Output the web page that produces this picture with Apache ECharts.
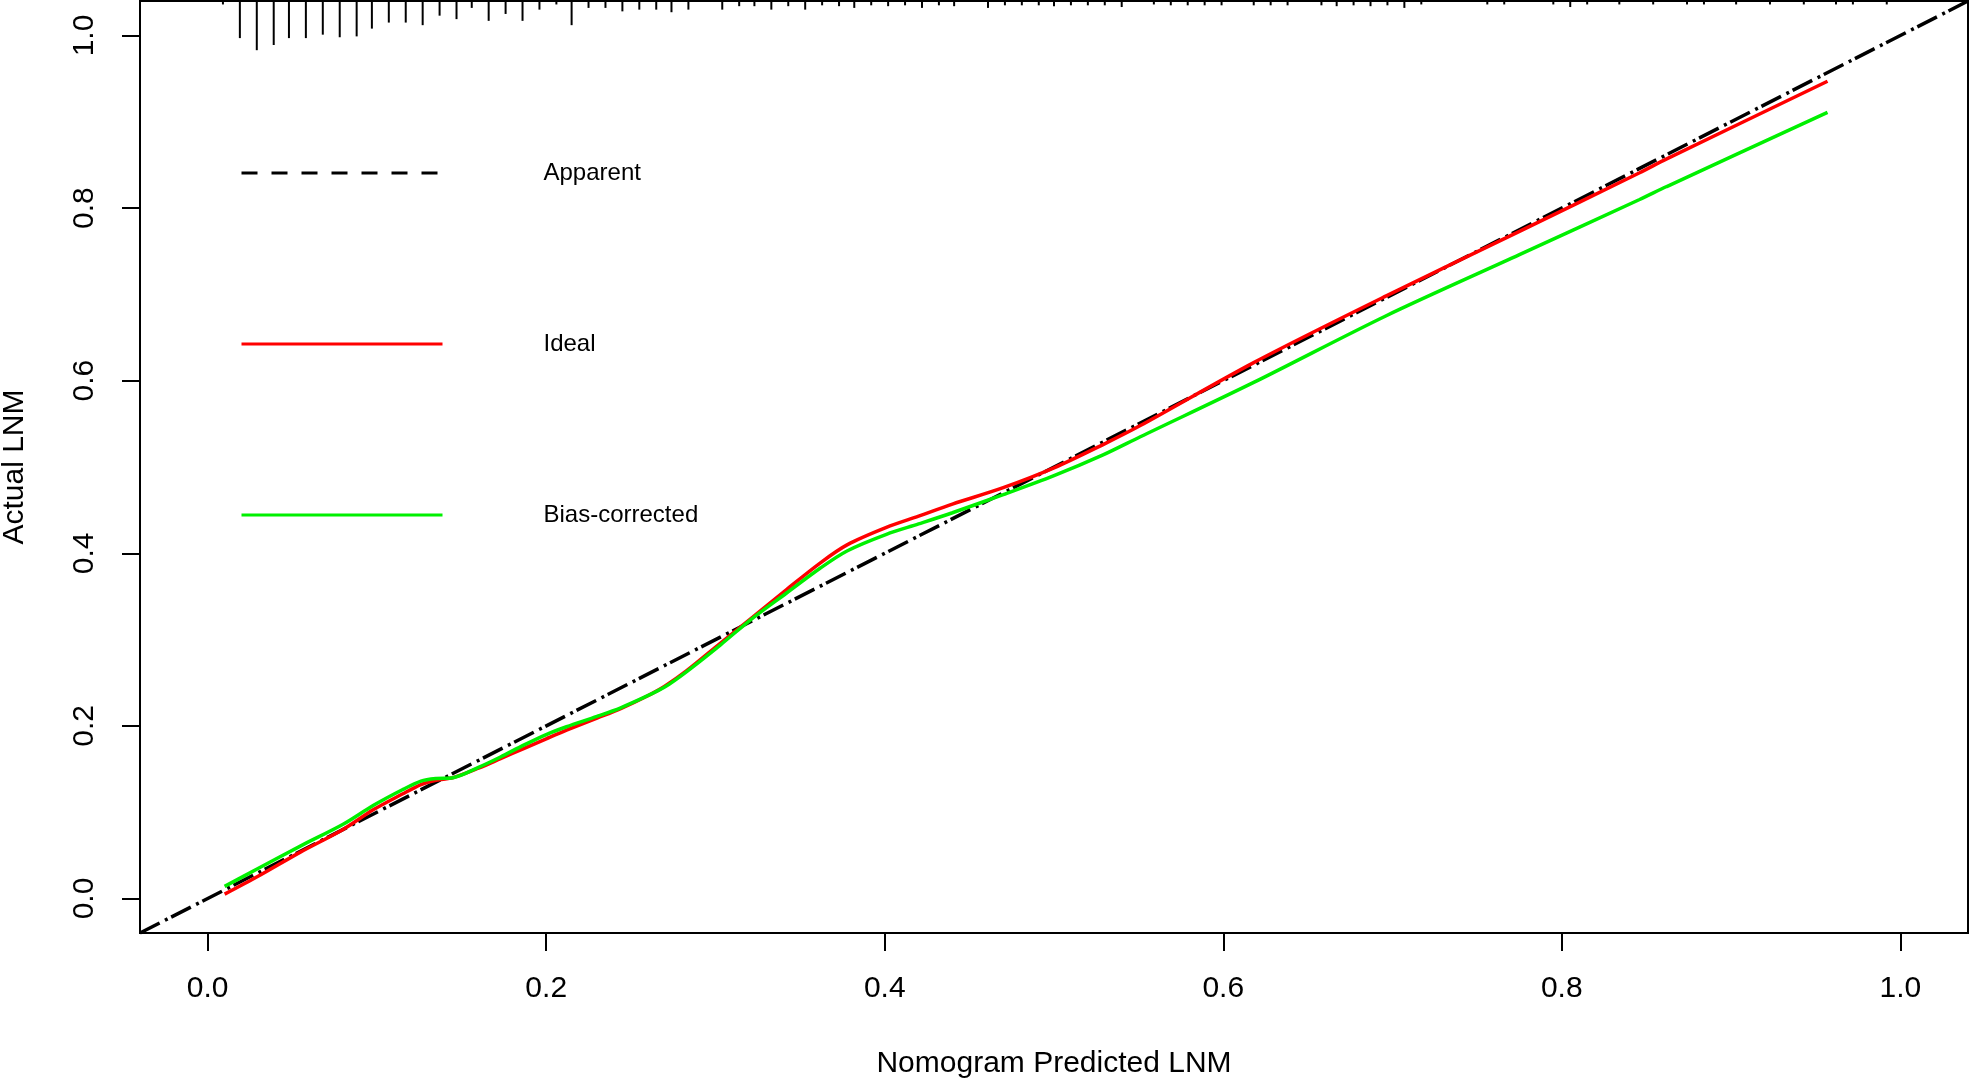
<!DOCTYPE html>
<html>
<head>
<meta charset="utf-8">
<script src="https://cdn.jsdelivr.net/npm/echarts@6/dist/echarts.min.js"></script>
<style>
html,body{margin:0;padding:0;background:#fff;}
#chart{width:1969px;height:1080px;}
</style>
</head>
<body>
<div id="chart"></div>
<script>
// ---- data ----
const tickVals = [0, 0.2, 0.4, 0.6, 0.8, 1.0];

// diagonal ("Apparent", black dashed) endpoints
const diagX = [-0.04, 1.04];
const diagY = [-0.04, 1.04];

// calibration curves
const calX   = [0.010,0.030,0.055,0.080,0.098,0.115,0.126,0.135,0.145,0.160,0.173,0.187,0.200,0.212,0.230,0.244,0.260,0.270,0.283,0.303,0.322,0.342,0.362,0.378,0.401,0.420,0.440,0.470,0.500,0.529,0.551,0.618,0.696,0.775,0.846,0.862,0.957];
const idealY = [0.005,0.026,0.054,0.080,0.103,0.121,0.132,0.137,0.140,0.151,0.162,0.174,0.185,0.195,0.209,0.220,0.235,0.246,0.264,0.296,0.326,0.358,0.389,0.410,0.430,0.443,0.457,0.476,0.499,0.526,0.548,0.621,0.698,0.773,0.841,0.857,0.947];
const biasY  = [0.014,0.035,0.061,0.086,0.108,0.126,0.136,0.139,0.140,0.152,0.164,0.178,0.190,0.199,0.211,0.221,0.235,0.245,0.263,0.294,0.325,0.354,0.383,0.403,0.422,0.434,0.447,0.468,0.490,0.514,0.535,0.598,0.675,0.746,0.810,0.825,0.911];

// rug (spikes hanging from the top of the frame): positions and lengths
const rugX = [0.009,0.019,0.029,0.039,0.048,0.058,0.068,0.078,0.088,0.097,0.107,0.117,0.127,0.137,0.147,0.156,0.166,0.176,0.186,0.196,0.206,0.215,0.225,0.235,0.245,0.255,0.265,0.274,0.284,0.304,0.314,0.323,0.333,0.343,0.353,0.363,0.373,0.382,0.392,0.402,0.412,0.422,0.432,0.441,0.461,0.471,0.481,0.491,0.500,0.510,0.520,0.530,0.540,0.559,0.569,0.579,0.589,0.599,0.618,0.628,0.638,0.658,0.667,0.677,0.687,0.697,0.707,0.717,0.756,0.766,0.795,0.805,0.815,0.834,0.854,0.874,0.884,0.903,0.923,0.943,0.962,0.972,0.992];
const rugH = [0.004,0.043,0.057,0.051,0.043,0.043,0.039,0.042,0.041,0.032,0.025,0.025,0.028,0.017,0.021,0.008,0.023,0.015,0.023,0.010,0.004,0.028,0.008,0.008,0.012,0.010,0.010,0.013,0.010,0.010,0.006,0.006,0.010,0.006,0.010,0.005,0.006,0.008,0.005,0.006,0.005,0.008,0.005,0.006,0.008,0.005,0.005,0.005,0.006,0.005,0.005,0.005,0.007,0.004,0.005,0.005,0.005,0.005,0.005,0.005,0.005,0.005,0.006,0.005,0.006,0.005,0.008,0.004,0.004,0.004,0.004,0.007,0.004,0.004,0.004,0.004,0.004,0.004,0.004,0.004,0.004,0.004,0.004];

const legendNames = ['Apparent', 'Ideal', 'Bias-corrected'];

// ---- chart ----
const FONT = "'Liberation Sans', Arial, sans-serif";
const AXMIN = -0.04, AXMAX = 1.04;
const zip = (a, b) => a.map((v, i) => [v, b[i]]);

const chart = echarts.init(document.getElementById('chart'));
chart.setOption({
  animation: false,
  backgroundColor: '#ffffff',
  textStyle: { fontFamily: FONT, color: '#000' },
  grid: {
    left: 140, right: 1, top: 1, bottom: 147,
    outerBoundsMode: 'none', containLabel: false,
    show: true, borderColor: '#000', borderWidth: 2, backgroundColor: 'transparent'
  },
  legend: {
    orient: 'vertical',
    left: 240, top: 157,
    padding: 0,
    itemWidth: 201, itemHeight: 24, itemGap: 139,
    selectedMode: false,
    textStyle: { fontFamily: FONT, fontSize: 24, color: '#000', lineHeight: 24, padding: [8, 0, 0, 96] },
    data: [
      { name: legendNames[0], itemStyle: { opacity: 0 }, lineStyle: { color: '#000', width: 3, type: [16, 14] } },
      { name: legendNames[1], itemStyle: { opacity: 0 }, lineStyle: { color: '#ff0000', width: 3, type: 'solid' } },
      { name: legendNames[2], itemStyle: { opacity: 0 }, lineStyle: { color: '#00f000', width: 3, type: 'solid' } }
    ]
  },
  xAxis: {
    type: 'value', min: AXMIN, max: AXMAX,
    name: 'Nomogram Predicted LNM', nameLocation: 'middle', nameGap: 116,
    nameTextStyle: { fontFamily: FONT, fontSize: 30, color: '#000' },
    axisLine: { show: true, onZero: false, lineStyle: { color: '#000', width: 2 } },
    axisTick: { show: true, customValues: tickVals, length: 18, lineStyle: { color: '#000', width: 2 } },
    axisLabel: { customValues: tickVals, formatter: v => v.toFixed(1), margin: 41, fontFamily: FONT, fontSize: 30, color: '#000' },
    splitLine: { show: false }
  },
  yAxis: {
    type: 'value', min: AXMIN, max: AXMAX,
    name: 'Actual LNM', nameLocation: 'middle', nameGap: 110,
    nameTextStyle: { fontFamily: FONT, fontSize: 30, color: '#000' },
    axisLine: { show: true, onZero: false, lineStyle: { color: '#000', width: 2 } },
    axisTick: { show: true, customValues: tickVals, length: 18, lineStyle: { color: '#000', width: 2 } },
    axisLabel: { customValues: tickVals, formatter: v => v.toFixed(1), rotate: 90, margin: 40, fontFamily: FONT, fontSize: 30, color: '#000' },
    splitLine: { show: false }
  },
  series: [
    {
      name: legendNames[0], type: 'line', data: zip(diagX, diagY),
      symbol: 'none', silent: true, z: 2,
      lineStyle: { color: '#000', width: 3.5, type: [22, 6, 3, 4] }
    },
    {
      name: legendNames[1], type: 'line', data: zip(calX, idealY),
      symbol: 'none', smooth: 0.3, silent: true, z: 3,
      lineStyle: { color: '#ff0000', width: 3.5 }
    },
    {
      name: legendNames[2], type: 'line', data: zip(calX, biasY),
      symbol: 'none', smooth: 0.3, silent: true, z: 4,
      lineStyle: { color: '#00f000', width: 3.5 }
    },
    {
      name: 'rug', type: 'custom', silent: true, z: 5,
      data: zip(rugX, rugH),
      renderItem: function (params, api) {
        const x = api.value(0), h = api.value(1);
        const p1 = api.coord([x, AXMAX]);
        const p2 = api.coord([x, AXMAX - h]);
        return {
          type: 'line',
          shape: { x1: p1[0], y1: p1[1], x2: p2[0], y2: p2[1] },
          style: { stroke: '#000', lineWidth: 2 }
        };
      }
    }
  ]
});
</script>
</body>
</html>
